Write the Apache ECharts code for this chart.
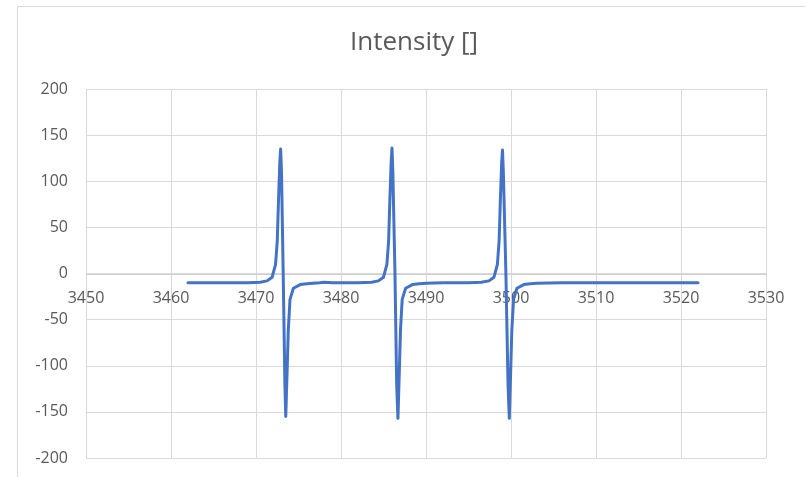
<!DOCTYPE html>
<html>
<head>
<meta charset="utf-8">
<script src="https://cdn.jsdelivr.net/npm/echarts@6/dist/echarts.min.js"></script>
<style>html,body{margin:0;padding:0;background:#fff}#c{width:805px;height:477px}</style>
</head>
<body>
<div id="c"></div>
<script>
var chartTitle = "Intensity []";
var xTicks = [3450, 3460, 3470, 3480, 3490, 3500, 3510, 3520, 3530];
var yTicks = [-200, -150, -100, -50, 0, 50, 100, 150, 200];
var fieldValues = [
  3462, 3466, 3469, 3470.5, 3471.3, 3471.9, 3472.3, 3472.5, 3472.65, 3472.8, 3472.9, 3473.0, 3473.2, 3473.4, 3473.5, 3473.65, 3473.8, 3474.0, 3474.4, 3475.2, 3476, 3476.7, 3477.5, 3478, 3479, 3482,
  3483.6, 3484.4, 3485.0, 3485.4, 3485.6, 3485.75, 3485.9, 3486.0, 3486.1, 3486.35, 3486.55, 3486.7, 3486.85, 3487.0, 3487.2, 3487.6, 3488.4, 3489.2, 3490, 3492, 3495, 3496.5,
  3497.4, 3498.0, 3498.4, 3498.6, 3498.75, 3498.9, 3499.0, 3499.1, 3499.4, 3499.65, 3499.8, 3499.95, 3500.1, 3500.3, 3500.7, 3501.5, 3502.3, 3503, 3506, 3510, 3515, 3522
];
var intensityValues = [
  -10, -10, -10, -9.5, -8, -4, 10, 35, 80, 120, 135, 110, 0, -120, -155, -110, -61, -28, -16, -12, -11, -10.5, -10, -9.5, -10, -10,
  -9.5, -8, -4, 10, 35, 80, 120, 136, 110, 0, -120, -157, -110, -61, -28, -16, -12, -11, -10.5, -10, -10, -9.5,
  -8, -4, 10, 35, 80, 120, 134, 110, 0, -120, -157, -110, -61, -28, -16, -12, -11, -10.5, -10, -10, -10, -10
];

var seriesData = fieldValues.map(function (x, i) { return [x, intensityValues[i]]; });

var chart = echarts.init(document.getElementById('c'), null, {renderer: 'canvas'});
var font = '"Open Sans", "Liberation Sans", sans-serif';
chart.setOption({
  animation: false,
  backgroundColor: '#fff',
  title: {
    text: chartTitle,
    left: 345, top: 25,
    textStyle: {fontFamily: font, fontSize: 26, fontWeight: 'normal', color: '#595959'}
  },
  graphic: [{
    type: 'rect', silent: true,
    shape: {x: 17.5, y: 6.5, width: 900, height: 600},
    style: {fill: 'none', stroke: '#d9d9d9', lineWidth: 1}
  }],
  grid: {left: 86, right: 39, top: 89, bottom: 19, containLabel: false, outerBoundsMode: 'none'},
  xAxis: {
    type: 'value', min: xTicks[0], max: xTicks[xTicks.length - 1], interval: 10,
    offset: -184,
    axisLine: {show: true, onZero: false, lineStyle: {color: '#d0d0d0', width: 1}},
    axisTick: {show: false},
    axisLabel: {fontFamily: font, fontSize: 16, color: '#595959', margin: 16,
      formatter: function (v) { return String(v); }},
    splitLine: {show: true, lineStyle: {color: '#d9d9d9', width: 1}}
  },
  yAxis: {
    type: 'value', min: yTicks[0], max: yTicks[yTicks.length - 1], interval: 50,
    axisLine: {show: false},
    axisTick: {show: false},
    axisLabel: {fontFamily: font, fontSize: 16, color: '#595959', margin: 18},
    splitLine: {show: true, lineStyle: {color: '#d9d9d9', width: 1}}
  },
  series: [{
    type: 'line', data: seriesData, showSymbol: false, smooth: false,
    lineStyle: {color: '#4472C4', width: 3, join: 'round', cap: 'round'},
    itemStyle: {color: '#4472C4'}
  }]
});
</script>
</body>
</html>
